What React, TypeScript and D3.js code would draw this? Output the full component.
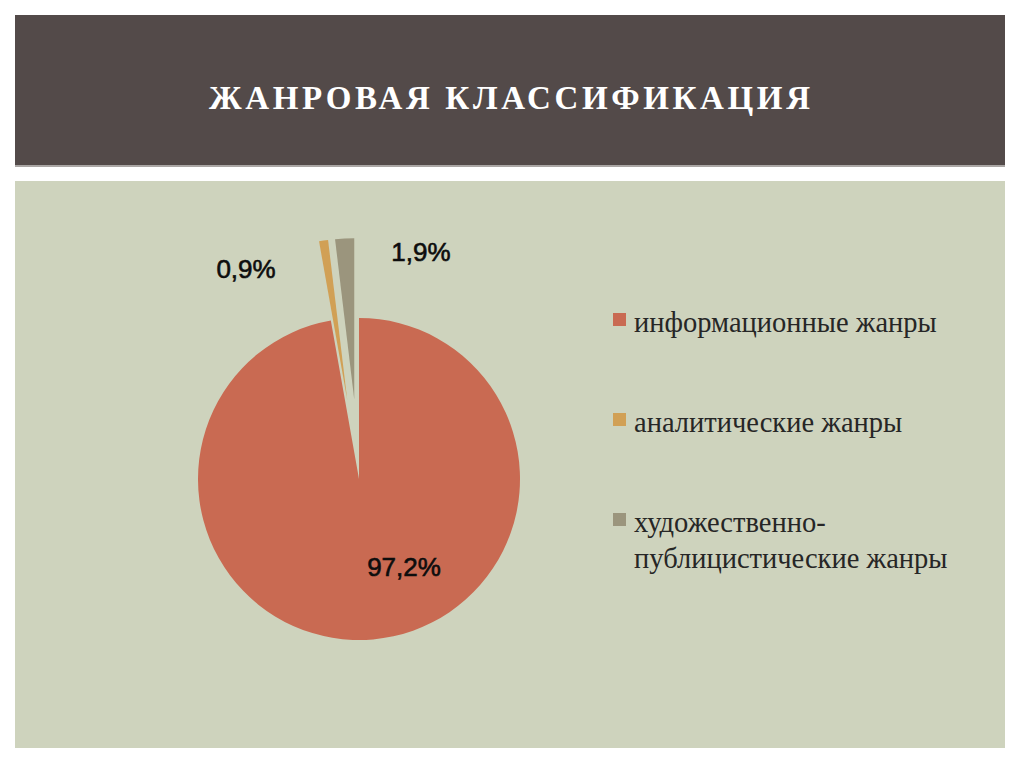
import React, { useEffect, useRef } from "react";
import * as d3 from "d3";

// chart data
const genres = ["информационные жанры", "аналитические жанры", "художественно-публицистические жанры"];
const shares = [97.2, 0.9, 1.9];
const shareLabels = ["97,2%", "0,9%", "1,9%"];
const legendLines = [["информационные жанры"], ["аналитические жанры"], ["художественно-", "публицистические жанры"]];
const colors = ["#C96A52", "#D1A055", "#9B957D"];

const W = 1024;
const H = 767;

const App = () => {
  const svgRef = useRef<SVGSVGElement | null>(null);

  useEffect(() => {
    const svg = d3.select(svgRef.current);
    svg.selectAll("*").remove();

    // slide background
    svg.append("rect").attr("width", W).attr("height", H).attr("fill", "#ffffff");
    svg.append("rect").attr("x", 15).attr("y", 15).attr("width", 990).attr("height", 150).attr("fill", "#534A49");
    svg.append("rect").attr("x", 15).attr("y", 165).attr("width", 990).attr("height", 2).attr("fill", "#aaa6a4");
    svg.append("rect").attr("x", 15).attr("y", 181).attr("width", 990).attr("height", 567).attr("fill", "#CED3BD");

    svg.append("text")
      .attr("x", 209)
      .attr("y", 109)
      .attr("textLength", 601)
      .attr("lengthAdjust", "spacing")
      .style("font-family", "'Liberation Serif', 'Times New Roman', serif")
      .style("font-weight", "bold")
      .style("font-size", "33px")
      .attr("fill", "#ffffff")
      .text("ЖАНРОВАЯ КЛАССИФИКАЦИЯ");

    // pie
    const cx = 359;
    const cy = 479;
    const r = 161;
    const explode = [0, 80, 80];

    const pie = d3.pie<number>().sort(null).startAngle(0).endAngle(2 * Math.PI).value((d) => d);
    const arcs = pie(shares);
    const arc = d3.arc<d3.PieArcDatum<number>>().innerRadius(0).outerRadius(r);

    const g = svg.append("g").attr("transform", `translate(${cx},${cy})`);
    g.selectAll("path")
      .data(arcs)
      .enter()
      .append("path")
      .attr("d", arc)
      .attr("fill", (_, i) => colors[i])
      .attr("transform", (d, i) => {
        const a = (d.startAngle + d.endAngle) / 2;
        return `translate(${explode[i] * Math.sin(a)},${-explode[i] * Math.cos(a)})`;
      });

    // data labels, offsets from pie centre
    const labelOffsets = [[45, 97], [-113, -201], [62, -218]];
    g.selectAll("text.lbl")
      .data(arcs)
      .enter()
      .append("text")
      .attr("class", "lbl")
      .attr("x", (_, i) => labelOffsets[i][0])
      .attr("y", (_, i) => labelOffsets[i][1])
      .attr("text-anchor", "middle")
      .style("font-family", "'Liberation Sans', Arial, sans-serif")
      .style("font-size", "26px")
      .attr("fill", "#0d0d0d")
      .attr("stroke", "#0d0d0d")
      .attr("stroke-width", 0.6)
      .text((_, i) => shareLabels[i]);

    // legend
    const legendY = d3.scaleBand<string>().domain(genres).range([332, 632]);
    const lg = svg.append("g");
    genres.forEach((name, i) => {
      const y = legendY(name)!;
      lg.append("rect")
        .attr("x", 613)
        .attr("y", y - 19)
        .attr("width", 13)
        .attr("height", 13)
        .attr("fill", colors[i]);
      legendLines[i].forEach((line, j) => {
        lg.append("text")
          .attr("x", 634)
          .attr("y", y + j * 36)
          .style("font-family", "'Liberation Serif', 'Times New Roman', serif")
          .style("font-size", "28.5px")
          .attr("fill", "#262626")
          .text(line);
      });
    });
  }, []);

  return (
    <svg
      ref={svgRef}
      width={W}
      height={H}
      style={{ position: "absolute", left: 0, top: 0, display: "block" }}
    />
  );
};

export default App;
